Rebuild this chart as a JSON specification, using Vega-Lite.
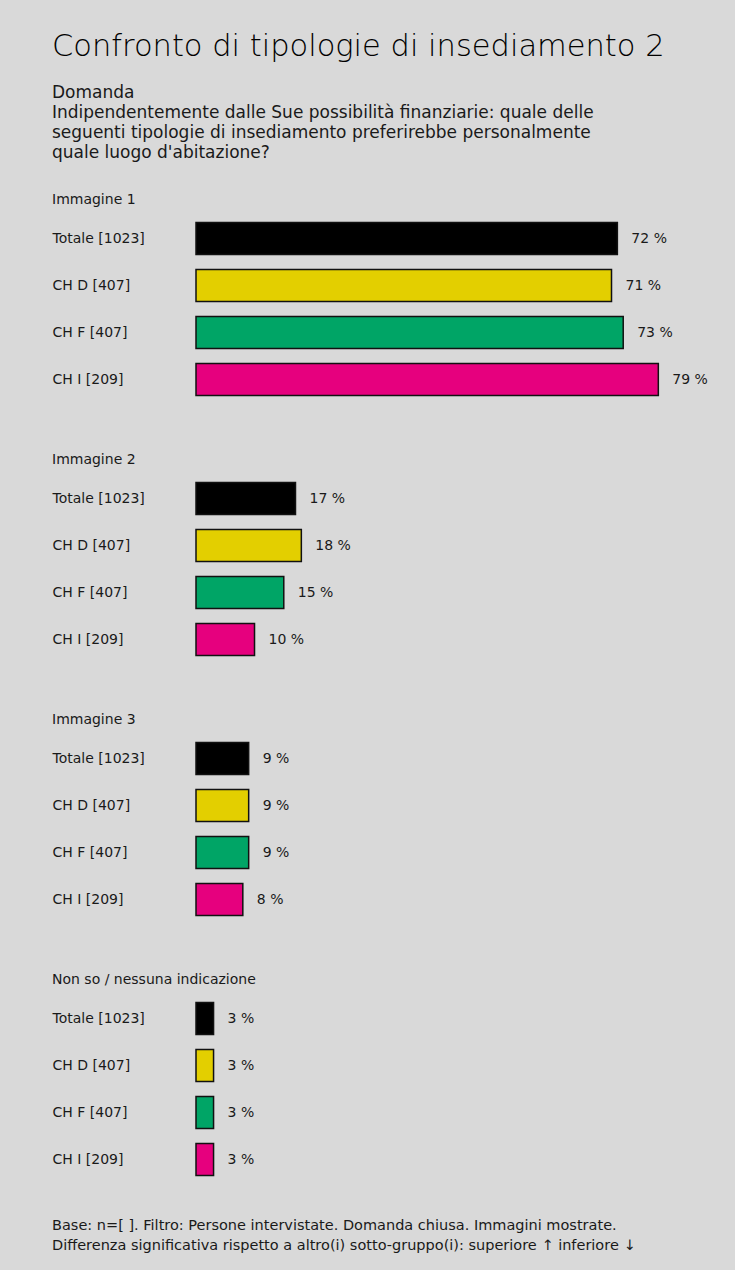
{
  "$schema": "https://vega.github.io/schema/vega-lite/v6.json",
  "background": "#d9d9d9",
  "padding": {"left": 52, "right": 24, "top": 31, "bottom": 16.5},
  "config": {
    "font": "DejaVu Sans",
    "view": {"stroke": null},
    "title": {"color": "#1a1a1a", "fontWeight": "normal", "anchor": "start"},
    "axis": {"labelFont": "DejaVu Sans"}
  },
  "datasets": {
    "bars": [
      {"group": "Immagine 1", "seg": "Totale [1023]", "value": 72, "label": "72 %"},
      {"group": "Immagine 1", "seg": "CH D [407]", "value": 71, "label": "71 %"},
      {"group": "Immagine 1", "seg": "CH F [407]", "value": 73, "label": "73 %"},
      {"group": "Immagine 1", "seg": "CH I [209]", "value": 79, "label": "79 %"},
      {"group": "Immagine 2", "seg": "Totale [1023]", "value": 17, "label": "17 %"},
      {"group": "Immagine 2", "seg": "CH D [407]", "value": 18, "label": "18 %"},
      {"group": "Immagine 2", "seg": "CH F [407]", "value": 15, "label": "15 %"},
      {"group": "Immagine 2", "seg": "CH I [209]", "value": 10, "label": "10 %"},
      {"group": "Immagine 3", "seg": "Totale [1023]", "value": 9, "label": "9 %"},
      {"group": "Immagine 3", "seg": "CH D [407]", "value": 9, "label": "9 %"},
      {"group": "Immagine 3", "seg": "CH F [407]", "value": 9, "label": "9 %"},
      {"group": "Immagine 3", "seg": "CH I [209]", "value": 8, "label": "8 %"},
      {"group": "Non so / nessuna indicazione", "seg": "Totale [1023]", "value": 3, "label": "3 %"},
      {"group": "Non so / nessuna indicazione", "seg": "CH D [407]", "value": 3, "label": "3 %"},
      {"group": "Non so / nessuna indicazione", "seg": "CH F [407]", "value": 3, "label": "3 %"},
      {"group": "Non so / nessuna indicazione", "seg": "CH I [209]", "value": 3, "label": "3 %"}
    ]
  },
  "title": {
    "text": "Confronto di tipologie di insediamento 2",
    "fontSize": 30.5,
    "fontWeight": 200,
    "color": "#000000",
    "subtitle": ["Domanda", "Indipendentemente dalle Sue possibilità finanziarie: quale delle", "seguenti tipologie di insediamento preferirebbe personalmente", "quale luogo d'abitazione?"],
    "subtitleFontSize": 17,
    "subtitleLineHeight": 20,
    "subtitleColor": "#1a1a1a",
    "subtitlePadding": 23,
    "offset": 32
  },
  "spacing": 50,
  "vconcat": [
    {
      "title": {"text": "Immagine 1", "fontSize": 14, "offset": 8},
      "width": 515, "height": 188,
      "data": {"name": "bars"},
      "transform": [{"filter": "datum.group === 'Immagine 1'"}],
      "encoding": {
        "y": {"field": "seg", "type": "nominal", "sort": null, "title": null,
              "scale": {"paddingInner": 0.32, "paddingOuter": 0.16},
              "axis": {"domain": false, "ticks": false, "tickSize": 0, "labelAlign": "left", "labelPadding": 144, "labelFontSize": 14, "labelColor": "#1a1a1a"}},
        "x": {"field": "value", "type": "quantitative", "scale": {"domain": [0, 88]}, "axis": null}
      },
      "layer": [
        {"mark": {"type": "bar", "stroke": "#111", "strokeWidth": 1.5},
         "encoding": {"color": {"field": "seg", "type": "nominal", "legend": null,
           "scale": {"domain": ["Totale [1023]", "CH D [407]", "CH F [407]", "CH I [209]"], "range": ["#000000", "#e3cf00", "#00a566", "#e6007e"]}}}},
        {"mark": {"type": "text", "align": "left", "dx": 14, "fontSize": 14, "color": "#1a1a1a"},
         "encoding": {"text": {"field": "label"}}}
      ]
    },
    {
      "title": {"text": "Immagine 2", "fontSize": 14, "offset": 8},
      "width": 515, "height": 188,
      "data": {"name": "bars"},
      "transform": [{"filter": "datum.group === 'Immagine 2'"}],
      "encoding": {
        "y": {"field": "seg", "type": "nominal", "sort": null, "title": null,
              "scale": {"paddingInner": 0.32, "paddingOuter": 0.16},
              "axis": {"domain": false, "ticks": false, "tickSize": 0, "labelAlign": "left", "labelPadding": 144, "labelFontSize": 14, "labelColor": "#1a1a1a"}},
        "x": {"field": "value", "type": "quantitative", "scale": {"domain": [0, 88]}, "axis": null}
      },
      "layer": [
        {"mark": {"type": "bar", "stroke": "#111", "strokeWidth": 1.5},
         "encoding": {"color": {"field": "seg", "type": "nominal", "legend": null,
           "scale": {"domain": ["Totale [1023]", "CH D [407]", "CH F [407]", "CH I [209]"], "range": ["#000000", "#e3cf00", "#00a566", "#e6007e"]}}}},
        {"mark": {"type": "text", "align": "left", "dx": 14, "fontSize": 14, "color": "#1a1a1a"},
         "encoding": {"text": {"field": "label"}}}
      ]
    },
    {
      "title": {"text": "Immagine 3", "fontSize": 14, "offset": 8},
      "width": 515, "height": 188,
      "data": {"name": "bars"},
      "transform": [{"filter": "datum.group === 'Immagine 3'"}],
      "encoding": {
        "y": {"field": "seg", "type": "nominal", "sort": null, "title": null,
              "scale": {"paddingInner": 0.32, "paddingOuter": 0.16},
              "axis": {"domain": false, "ticks": false, "tickSize": 0, "labelAlign": "left", "labelPadding": 144, "labelFontSize": 14, "labelColor": "#1a1a1a"}},
        "x": {"field": "value", "type": "quantitative", "scale": {"domain": [0, 88]}, "axis": null}
      },
      "layer": [
        {"mark": {"type": "bar", "stroke": "#111", "strokeWidth": 1.5},
         "encoding": {"color": {"field": "seg", "type": "nominal", "legend": null,
           "scale": {"domain": ["Totale [1023]", "CH D [407]", "CH F [407]", "CH I [209]"], "range": ["#000000", "#e3cf00", "#00a566", "#e6007e"]}}}},
        {"mark": {"type": "text", "align": "left", "dx": 14, "fontSize": 14, "color": "#1a1a1a"},
         "encoding": {"text": {"field": "label"}}}
      ]
    },
    {
      "title": {"text": ["Base: n=[ ]. Filtro: Persone intervistate. Domanda chiusa. Immagini mostrate.", "Differenza significativa rispetto a altro(i)  sotto-gruppo(i): superiore ↑ inferiore ↓"], "orient": "bottom", "fontSize": 14.5, "lineHeight": 20, "offset": 36},
      "vconcat": [
        {
          "title": {"text": "Non so / nessuna indicazione", "fontSize": 14, "offset": 8},
          "width": 515, "height": 188,
          "data": {"name": "bars"},
          "transform": [{"filter": "datum.group === 'Non so / nessuna indicazione'"}],
          "encoding": {
            "y": {"field": "seg", "type": "nominal", "sort": null, "title": null,
                  "scale": {"paddingInner": 0.32, "paddingOuter": 0.16},
                  "axis": {"domain": false, "ticks": false, "tickSize": 0, "labelAlign": "left", "labelPadding": 144, "labelFontSize": 14, "labelColor": "#1a1a1a"}},
            "x": {"field": "value", "type": "quantitative", "scale": {"domain": [0, 88]}, "axis": null}
          },
          "layer": [
            {"mark": {"type": "bar", "stroke": "#111", "strokeWidth": 1.5},
             "encoding": {"color": {"field": "seg", "type": "nominal", "legend": null,
               "scale": {"domain": ["Totale [1023]", "CH D [407]", "CH F [407]", "CH I [209]"], "range": ["#000000", "#e3cf00", "#00a566", "#e6007e"]}}}},
            {"mark": {"type": "text", "align": "left", "dx": 14, "fontSize": 14, "color": "#1a1a1a"},
             "encoding": {"text": {"field": "label"}}}
          ]
        }
      ]
    }
  ]
}
